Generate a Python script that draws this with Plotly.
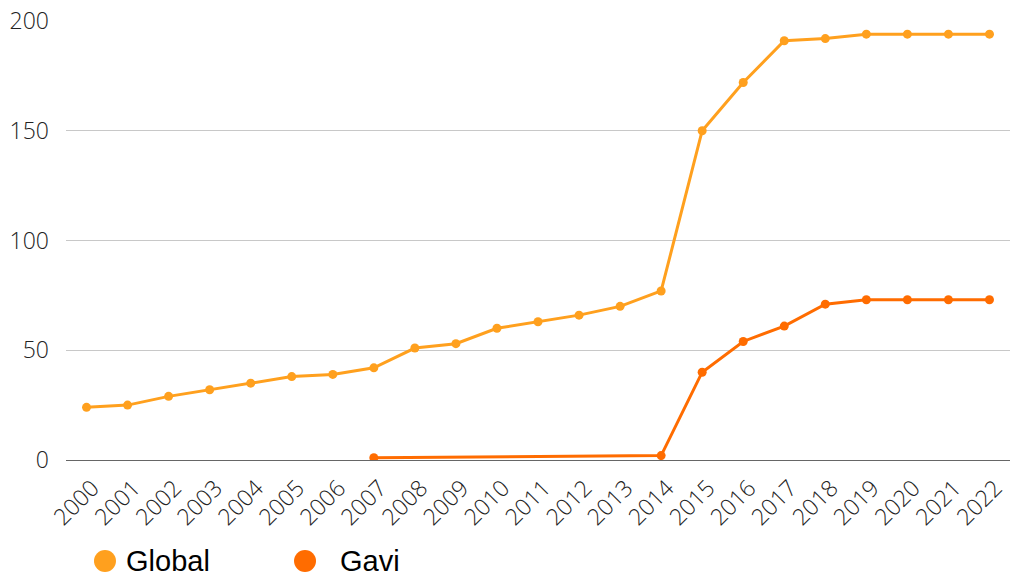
import plotly.graph_objects as go

# Years on the category axis
years = [str(y) for y in range(2000, 2023)]

# Number of countries (cumulative) per year
global_vals = [24, 25, 29, 32, 35, 38, 39, 42, 51, 53, 60, 63, 66, 70, 77,
               150, 172, 191, 192, 194, 194, 194, 194]
gavi_vals = [None, None, None, None, None, None, None, 1, None, None, None,
             None, None, None, 2, 40, 54, 61, 71, 73, 73, 73, 73]

series_names = ["Global", "Gavi"]
series_colors = ["#FFA01E", "#FF6C00"]

y_ticks = [0, 50, 100, 150, 200]

fig = go.Figure()
for name, vals, color in zip(series_names, [global_vals, gavi_vals], series_colors):
    fig.add_trace(go.Scatter(
        x=years, y=vals, name=name, mode="lines+markers",
        connectgaps=True,
        line=dict(color=color, width=3),
        marker=dict(color=color, size=9),
        showlegend=False,
    ))

tick_font = dict(family="Open Sans", size=23, color="#222222", weight=300)

fig.update_layout(
    width=1010, height=578,
    margin=dict(l=66, r=0, t=21, b=118),
    paper_bgcolor="white", plot_bgcolor="white",
    xaxis=dict(
        type="category", range=[-0.5, 22.5],
        tickangle=-45, tickfont=tick_font,
        showgrid=False, showline=False, zeroline=False,
        ticks="", ticklabelstandoff=9, ticklabelshift=6,
    ),
    yaxis=dict(
        range=[0, 200], tickvals=y_ticks,
        tickfont=tick_font,
        showgrid=True, gridcolor="#C8C8C8", gridwidth=1,
        zeroline=True, zerolinecolor="#666666", zerolinewidth=1,
        showline=False, ticks="", ticklabelstandoff=16,
    ),
)

# Legend drawn as circle swatches with labels beneath the axis
legend_y = -0.230
legend_items = [(0.0413, 0.0615), (0.2532, 0.2880)]
for (cx, tx), name, color in zip(legend_items, series_names, series_colors):
    fig.add_shape(
        type="circle", xref="paper", yref="paper",
        xsizemode="pixel", ysizemode="pixel",
        xanchor=cx, yanchor=legend_y,
        x0=-11, x1=11, y0=-11, y1=11,
        fillcolor=color, line=dict(width=0),
    )
    fig.add_annotation(
        x=tx, y=legend_y, xref="paper", yref="paper",
        text=name, showarrow=False, xanchor="left", yanchor="middle",
        font=dict(family="Liberation Sans", size=29, color="#000000"),
    )

fig.write_html("out.html")
